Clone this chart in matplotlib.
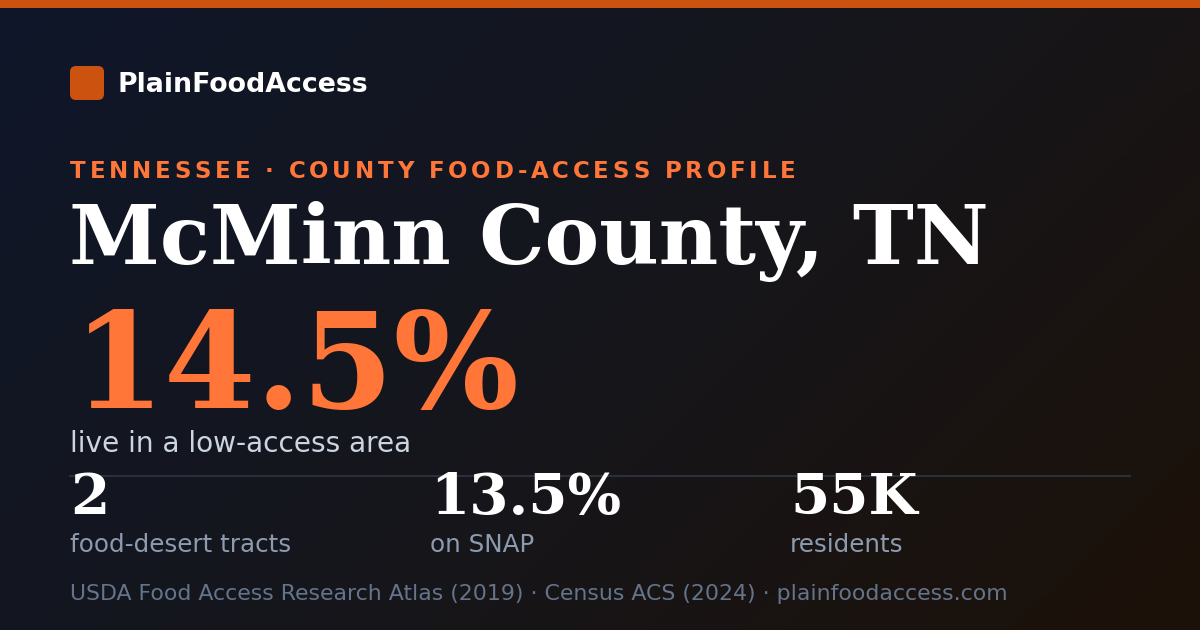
import matplotlib
matplotlib.use('Agg')
import matplotlib.pyplot as plt
import matplotlib.patches as mpatches
import numpy as np
from matplotlib.colors import LinearSegmentedColormap

# ---------- content ----------
brand = 'PlainFoodAccess'
kicker = 'TENNESSEE · COUNTY FOOD-ACCESS PROFILE'
county = 'McMinn County, TN'
headline_value = '14.5%'
headline_label = 'live in a low-access area'
stat_values = ['2', '13.5%', '55K']
stat_labels = ['food-desert tracts', 'on SNAP', 'residents']
footer = 'USDA Food Access Research Atlas (2019) · Census ACS (2024) · plainfoodaccess.com'

# ---------- style ----------
W, H = 1200, 630
C_ORANGE_DARK = '#cc5210'
C_ORANGE = '#ff7638'
C_WHITE = '#ffffff'
C_SUB = '#cbd5e1'
C_MUTED = '#8c9bb0'
C_FOOT = '#64748b'
C_RULE = '#2a2f3a'
SANS = 'DejaVu Sans'
SERIF = 'DejaVu Serif'

fig = plt.figure(figsize=(W / 100, H / 100), dpi=100)
ax = fig.add_axes([0, 0, 1, 1])
ax.set_xlim(0, W)
ax.set_ylim(H, 0)
ax.axis('off')

# diagonal background gradient (navy top-left -> dark brown bottom-right)
gx, gy = np.meshgrid(np.linspace(0, 1, 300), np.linspace(0, 1, 160))
g = (gx * W + gy * H) / (W + H)
cmap = LinearSegmentedColormap.from_list('bg', ['#0f172a', '#16161c', '#1c1108'])
ax.imshow(g, cmap=cmap, extent=[0, W, H, 0], aspect='auto', zorder=0)

# top accent bar
ax.add_patch(mpatches.Rectangle((0, 0), W, 8, facecolor=C_ORANGE_DARK, lw=0, zorder=1))

# logo
ax.add_patch(mpatches.FancyBboxPatch((70, 66), 34, 34, boxstyle='round,pad=0,rounding_size=6',
                                     facecolor=C_ORANGE_DARK, lw=0, zorder=2))
ax.text(118, 92, brand, fontsize=19.3, fontweight='bold', family=SANS, color=C_WHITE,
        ha='left', va='baseline', zorder=3)

# letter-spaced kicker
renderer = fig.canvas.get_renderer()
x = 70
for ch in kicker:
    t = ax.text(x, 178, ch, fontsize=16.5, fontweight='bold', family=SANS, color=C_ORANGE,
                ha='left', va='baseline', zorder=3)
    bb = t.get_window_extent(renderer=renderer)
    if ch == ' ':
        adv = 16.5 * 100 / 72 * 0.32
    else:
        adv = bb.width
    x += adv + 3.8

# county name
ax.text(69, 264, county, fontsize=59, fontweight='bold', family=SERIF, color=C_WHITE,
        ha='left', va='baseline', zorder=3)

# headline stat
ax.text(73, 408, headline_value, fontsize=95, fontweight='bold', family=SERIF, color=C_ORANGE,
        ha='left', va='baseline', zorder=3)
ax.text(70, 452, headline_label, fontsize=20.2, family=SANS, color=C_SUB,
        ha='left', va='baseline', zorder=3)

# divider
ax.plot([70, 1130], [475.5, 475.5], color=C_RULE, lw=1.5, zorder=2)

# small stats
stat_x = [70, 430, 790]
for sx, val, lab in zip(stat_x, stat_values, stat_labels):
    ax.text(sx, 514, val, fontsize=40.6, fontweight='bold', family=SERIF, color=C_WHITE,
            ha='left', va='baseline', zorder=3)
    ax.text(sx, 552, lab, fontsize=17.7, family=SANS, color=C_MUTED,
            ha='left', va='baseline', zorder=3)

# footer
ax.text(70, 600, footer, fontsize=15.85, family=SANS, color=C_FOOT,
        ha='left', va='baseline', zorder=3)

fig.savefig('out.png', dpi=100, facecolor='#111111')
plt.close(fig)
